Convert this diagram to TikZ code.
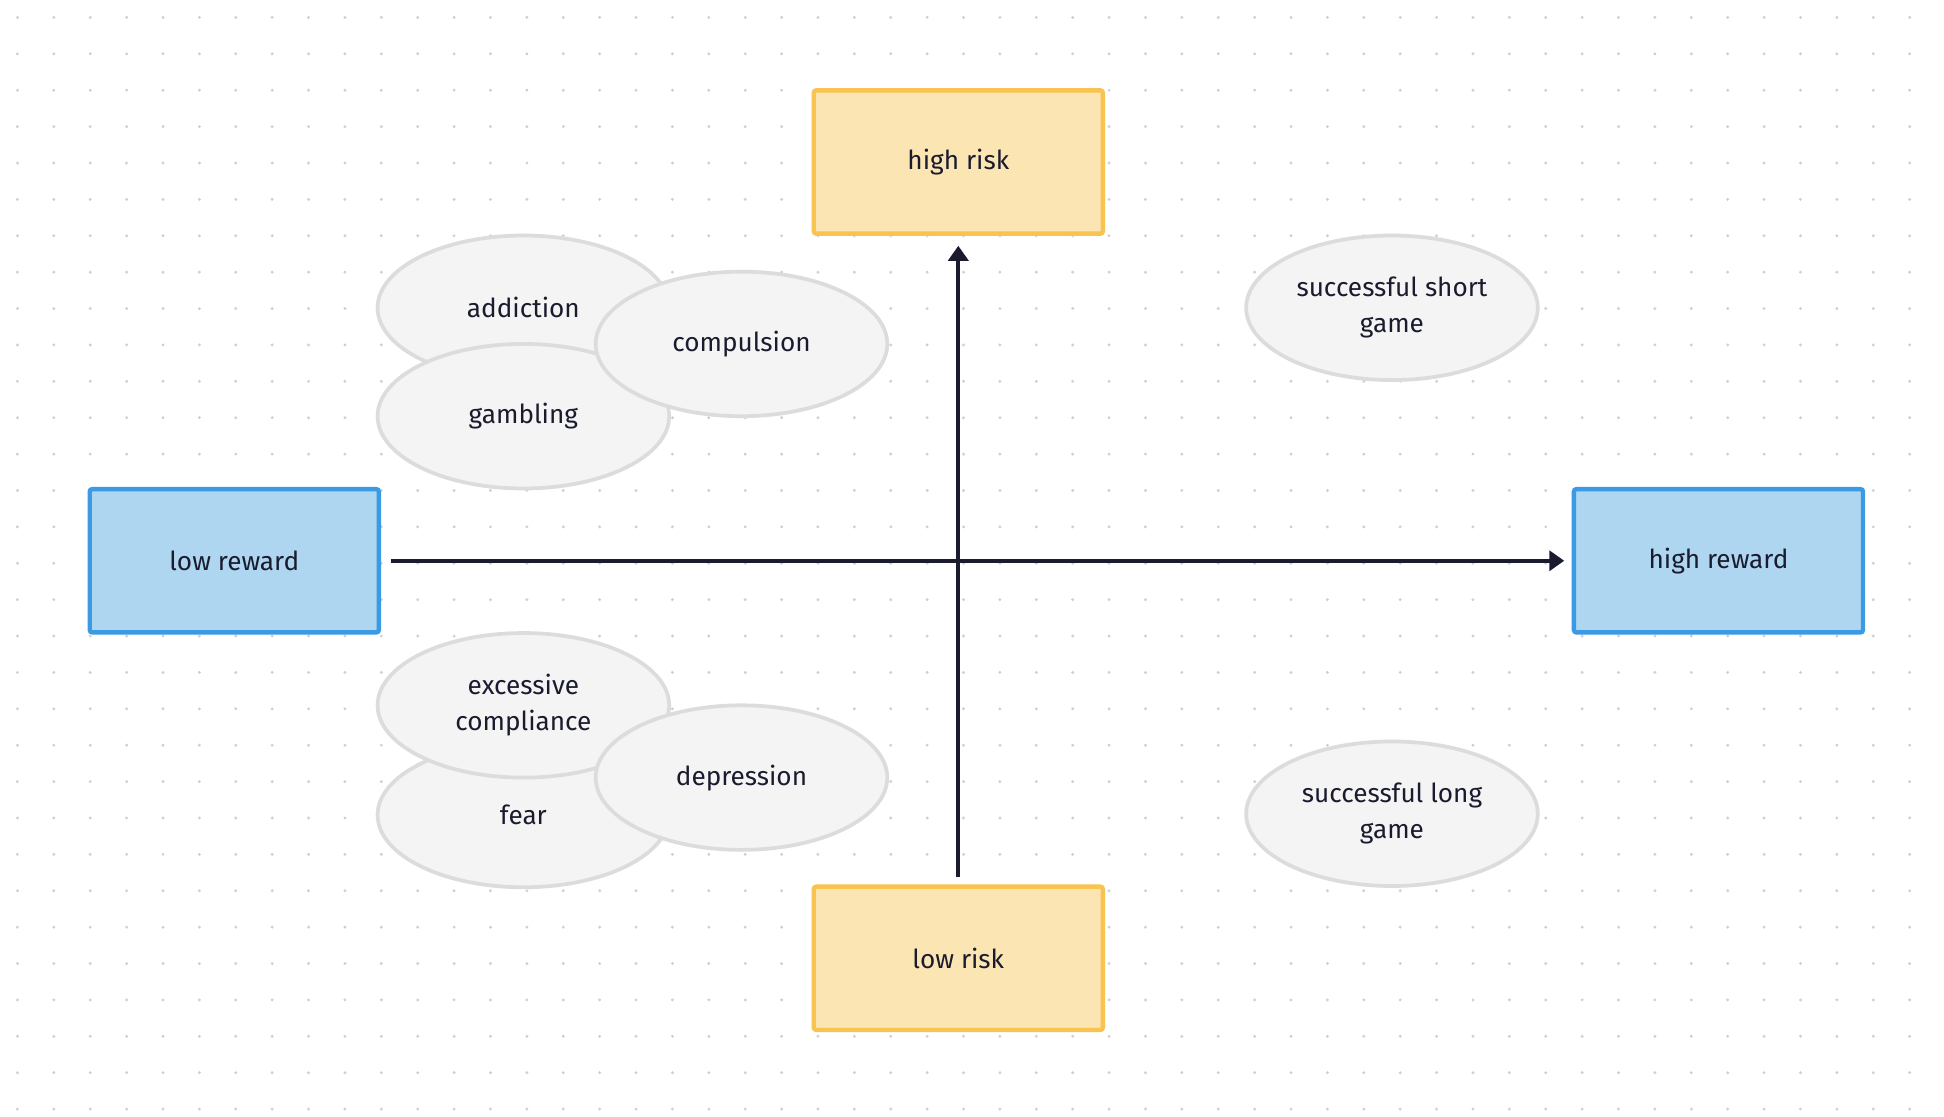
\documentclass[tikz,border=0pt]{standalone}
\usepackage{fontspec}
\setmainfont{Fira Sans}
\usetikzlibrary{shapes.geometric,arrows.meta,calc}
\definecolor{yfill}{HTML}{FBE5B3}
\definecolor{ydraw}{HTML}{F8C34F}
\definecolor{bfill}{HTML}{AED6F1}
\definecolor{bdraw}{HTML}{3A9AE4}
\definecolor{efill}{HTML}{F4F4F4}
\definecolor{edraw}{HTML}{DCDCDC}
\definecolor{ink}{HTML}{1A1B2E}
\definecolor{dotc}{HTML}{D0D0D0}
\begin{document}
\begin{tikzpicture}[x=1pt,y=-1pt,
  every node/.style={font=\fontsize{21}{29}\selectfont, text=ink},
  box/.style={rectangle, rounded corners=2pt, line width=3.5pt, minimum width=232pt, minimum height=115pt},
  risk/.style={box, fill=yfill, draw=ydraw},
  rew/.style={box, fill=bfill, draw=bdraw},
  ell/.style={ellipse, fill=efill, draw=edraw, line width=3pt, minimum width=234pt, minimum height=116pt, inner sep=0pt, align=center},
  axis/.style={draw=ink, line width=3pt, -{Triangle[length=12pt,width=16pt]}}]
\useasboundingbox (0,0) rectangle (1560,896);
\fill[white] (0,0) rectangle (1560,896);
\foreach \i in {0,...,53}{\foreach \j in {0,...,30}{
  \fill[dotc] (14+29.2*\i,14+29.2*\j) circle (1.3pt);}}
\node[risk] (hr) at (769,130) {high risk};
\node[risk] (lr) at (769,769) {low risk};
\node[rew] (lw) at (188,450) {low reward};
\node[rew] (hw) at (1379,450) {high reward};
\draw[axis, shorten <=8pt, shorten >=6pt] (lw.east) -- (hw.west);
\draw[axis, shorten <=6pt, shorten >=8pt] (lr.north) -- (hr.south);
\node[ell] (add) at (420,247) {addiction};
\node[ell] (gam) at (420,334) {gambling};
\node[ell] (com) at (595,276) {compulsion};
\node[ell] (fear) at (420,654) {fear};
\node[ell] (exc) at (420,566) {excessive\\compliance};
\node[ell] (dep) at (595,624) {depression};
\node[ell] (ssg) at (1117,247) {successful short\\game};
\node[ell] (slg) at (1117,653) {successful long\\game};
\end{tikzpicture}
\end{document}
